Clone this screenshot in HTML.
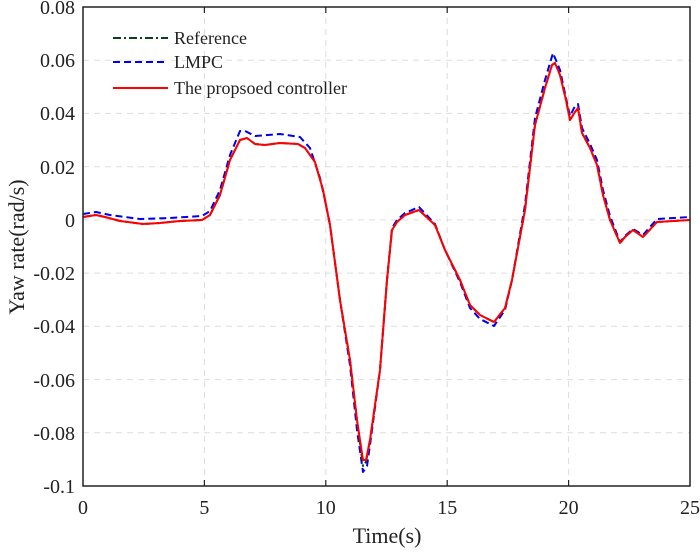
<!DOCTYPE html>
<html><head><style>body{margin:0;background:#fff}</style></head><body>
<svg width="700" height="550" xmlns="http://www.w3.org/2000/svg" font-family="Liberation Serif, serif">
<rect width="700" height="550" fill="#fff"/>
<g stroke="#ddd" stroke-dasharray="6,5" stroke-width="1">
<line x1="204.4" y1="7" x2="204.4" y2="486"/><line x1="325.8" y1="7" x2="325.8" y2="486"/><line x1="447.2" y1="7" x2="447.2" y2="486"/><line x1="568.6" y1="7" x2="568.6" y2="486"/>
<line x1="83" y1="60.2" x2="690" y2="60.2"/><line x1="83" y1="113.4" x2="690" y2="113.4"/><line x1="83" y1="166.7" x2="690" y2="166.7"/><line x1="83" y1="219.9" x2="690" y2="219.9"/><line x1="83" y1="273.1" x2="690" y2="273.1"/><line x1="83" y1="326.3" x2="690" y2="326.3"/><line x1="83" y1="379.6" x2="690" y2="379.6"/><line x1="83" y1="432.8" x2="690" y2="432.8"/>
</g>
<g fill="none" stroke-linejoin="round">
<path stroke="#0000ee" stroke-width="2" stroke-dasharray="7,4" d="M83,214 L96,212 L110,215 L140,219 L170,218 L202,216 L210,211 L220,190 L230,155 L240,131 L245,131 L255,136 L280,134 L300,137 L310,148 L320,178 L325,200 L330,225 L340,300 L350,365 L357,430 L363,472 L367,466 L370,445 L380,370 L387,280 L392,228 L397,220 L405,213 L419,207 L435,224 L445,250 L460,282 L470,308 L480,319 L494,326 L505,310 L512,280 L525,205 L535,118 L545,80 L553,53 L560,70 L566,98 L570,116 L575,106 L578,104 L582,128 L590,144 L597,160 L603,190 L610,216 L620,242 L625,236 L633,229 L643,235 L657,219 L690,217"/>
<path stroke="#0b3d1e" stroke-width="2" stroke-dasharray="8,3,2,3" d="M83,217 L96,215 L105,217 L120,221 L143,224 L160,223 L180,221 L202,220 L210,215 L220,195 L230,160 L240,140 L247,138 L255,144 L265,145 L280,143 L298,144 L305,148 L315,162 L323,190 L330,225 L340,300 L350,360 L357,420 L363,466 L366,462 L370,440 L380,370 L387,280 L392,230 L397,222 L405,215 L419,210 L435,225 L445,250 L460,280 L470,305 L480,315 L494,322 L505,308 L512,280 L525,210 L535,125 L545,88 L552,65 L555,63 L560,75 L566,100 L570,120 L575,112 L578,108 L582,133 L590,148 L597,165 L603,195 L610,220 L620,243 L625,237 L633,230 L643,237 L657,222 L690,220"/>
<path stroke="#ff0000" stroke-width="2" d="M83,217 L96,215 L105,217 L120,221 L143,224 L160,223 L180,221 L202,220 L210,215 L220,195 L230,160 L240,140 L247,138 L255,144 L265,145 L280,143 L298,144 L305,148 L315,162 L323,190 L330,225 L340,300 L350,360 L357,420 L363,460 L366,460 L370,440 L380,370 L387,280 L392,230 L397,222 L405,215 L419,210 L435,225 L445,250 L460,280 L470,305 L480,315 L494,322 L505,308 L512,280 L525,210 L535,125 L545,88 L552,65 L555,63 L560,75 L566,100 L570,120 L575,112 L578,108 L582,133 L590,148 L597,165 L603,195 L610,220 L620,243 L625,237 L633,230 L643,237 L657,222 L690,220"/>
</g>
<rect x="83" y="7" width="607" height="479" fill="none" stroke="#222" stroke-width="1.5"/>
<g stroke="#222" stroke-width="1.2">
<line x1="204.4" y1="486" x2="204.4" y2="480"/><line x1="325.8" y1="486" x2="325.8" y2="480"/><line x1="447.2" y1="486" x2="447.2" y2="480"/><line x1="568.6" y1="486" x2="568.6" y2="480"/>
<line x1="204.4" y1="7" x2="204.4" y2="13"/><line x1="325.8" y1="7" x2="325.8" y2="13"/><line x1="447.2" y1="7" x2="447.2" y2="13"/><line x1="568.6" y1="7" x2="568.6" y2="13"/>
</g>
<g font-size="20" fill="#222" text-anchor="end">
<text x="75" y="14">0.08</text><text x="75" y="67">0.06</text><text x="75" y="120">0.04</text><text x="75" y="174">0.02</text><text x="75" y="227">0</text><text x="75" y="280">-0.02</text><text x="75" y="333">-0.04</text><text x="75" y="387">-0.06</text><text x="75" y="440">-0.08</text><text x="75" y="493">-0.1</text>
</g>
<g font-size="20" fill="#222" text-anchor="middle">
<text x="83" y="514">0</text><text x="204.4" y="514">5</text><text x="325.8" y="514">10</text><text x="447.2" y="514">15</text><text x="568.6" y="514">20</text><text x="690" y="514">25</text>
<text x="387" y="543" font-size="22">Time(s)</text>
<text transform="translate(24,247) rotate(-90)" font-size="22">Yaw rate(rad/s)</text>
</g>
<g font-size="18" fill="#222">
<line x1="113" y1="38" x2="168" y2="38" stroke="#0b3d1e" stroke-width="2" stroke-dasharray="8,3,2,3"/><text x="174" y="44">Reference</text>
<line x1="113" y1="62" x2="168" y2="62" stroke="#0000ee" stroke-width="2" stroke-dasharray="7,4"/><text x="174" y="68">LMPC</text>
<line x1="113" y1="88" x2="168" y2="88" stroke="#ff0000" stroke-width="2"/><text x="174" y="94">The propsoed controller</text>
</g>
</svg>
</body></html>
